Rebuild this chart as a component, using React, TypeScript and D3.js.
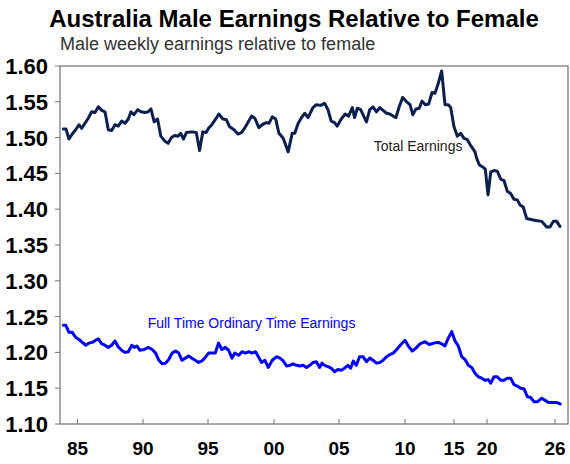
import React, { useEffect, useRef } from "react";
import * as d3 from "d3";

// Total earnings (male / female), decimal year + ratio
const teDates = [
  1983.92, 1984.12, 1984.35, 1984.6, 1984.86, 1985.11, 1985.32, 1985.57, 1985.82, 1986.08,
  1986.34, 1986.59, 1986.85, 1987.1, 1987.35, 1987.61, 1987.86, 1988.11, 1988.37, 1988.63,
  1988.88, 1989.08, 1989.31, 1989.6, 1989.85, 1990.15, 1990.4, 1990.61, 1990.86, 1991.12,
  1991.37, 1991.68, 1991.93, 1992.19, 1992.44, 1992.69, 1992.9, 1993.11, 1993.34, 1993.72,
  1994.1, 1994.35, 1994.6, 1994.86, 1995.04, 1995.29, 1995.55, 1995.82, 1996.13, 1996.39,
  1996.64, 1996.97, 1997.27, 1997.53, 1997.84, 1998.3, 1998.55, 1998.85, 1999.18, 1999.44,
  1999.62, 1999.87, 2000.13, 2000.38, 2000.71, 2001.09, 2001.4, 2001.6, 2001.86, 2002.16,
  2002.37, 2002.62, 2003.0, 2003.26, 2003.59, 2003.89, 2004.15, 2004.4, 2004.66, 2004.86,
  2005.17, 2005.47, 2005.73, 2006.01, 2006.18, 2006.39, 2006.64, 2006.82, 2007.08, 2007.33,
  2007.58, 2007.84, 2008.09, 2008.34, 2008.6, 2008.85, 2009.18, 2009.31, 2009.56, 2009.82,
  2010.17, 2010.51, 2010.79, 2011.12, 2011.46, 2011.73, 2012.07, 2012.42, 2012.76, 2013.06,
  2013.4, 2013.74, 2014.08, 2014.42, 2014.66, 2015.0, 2015.5, 2016.02, 2016.52, 2017.02,
  2017.53, 2018.18, 2018.44, 2018.83, 2019.34, 2019.74, 2020.09, 2020.33, 2020.62, 2020.91,
  2021.21, 2021.5, 2021.79, 2022.09, 2022.38, 2022.67, 2022.91, 2023.2, 2023.5, 2023.8,
  2024.09, 2024.44, 2024.83, 2025.27, 2025.56, 2025.85, 2026.15, 2026.44,
];
const teValues = [
  1.512, 1.512, 1.498, 1.505, 1.511, 1.518, 1.513, 1.52, 1.527, 1.536,
  1.535, 1.543, 1.538, 1.536, 1.511, 1.51, 1.518, 1.516, 1.523, 1.52,
  1.526, 1.536, 1.532, 1.539, 1.536, 1.535, 1.536, 1.54, 1.522, 1.526,
  1.502, 1.495, 1.492, 1.5, 1.503, 1.502, 1.506, 1.498, 1.507, 1.508,
  1.507, 1.482, 1.508, 1.507, 1.513, 1.518, 1.525, 1.533, 1.526, 1.525,
  1.515, 1.511, 1.505, 1.507, 1.515, 1.53, 1.527, 1.514, 1.519, 1.521,
  1.52, 1.529, 1.526, 1.506, 1.499, 1.48, 1.506, 1.506, 1.52, 1.529,
  1.534, 1.528, 1.542, 1.546, 1.545, 1.548, 1.539, 1.523, 1.521, 1.516,
  1.526, 1.533, 1.53, 1.542, 1.528, 1.541, 1.539, 1.532, 1.522, 1.539,
  1.543, 1.536, 1.542, 1.538, 1.534, 1.533, 1.529, 1.528, 1.543, 1.556,
  1.55, 1.546, 1.532, 1.54, 1.541, 1.551, 1.546, 1.547, 1.563, 1.562,
  1.576, 1.593, 1.546, 1.546, 1.542, 1.515, 1.502, 1.506, 1.499, 1.497,
  1.489, 1.48, 1.471, 1.462, 1.459, 1.456, 1.42, 1.452, 1.454, 1.453,
  1.442, 1.44, 1.425, 1.422, 1.414, 1.413, 1.406, 1.403, 1.387, 1.386,
  1.385, 1.384, 1.383, 1.375, 1.375, 1.383, 1.383, 1.376,
];

// Full time ordinary time earnings (male / female)
const ftDates = [
  1983.92, 1984.1, 1984.35, 1984.6, 1984.86, 1985.11, 1985.37, 1985.63, 1985.88, 1986.13,
  1986.39, 1986.59, 1986.85, 1987.1, 1987.35, 1987.61, 1987.86, 1988.11, 1988.37, 1988.63,
  1988.88, 1989.14, 1989.34, 1989.52, 1989.77, 1990.1, 1990.4, 1990.71, 1990.97, 1991.22,
  1991.47, 1991.73, 1991.98, 1992.24, 1992.5, 1992.75, 1993.0, 1993.26, 1993.51, 1993.76,
  1994.02, 1994.27, 1994.53, 1994.79, 1995.04, 1995.29, 1995.55, 1995.8, 1996.05, 1996.31,
  1996.56, 1996.82, 1997.02, 1997.33, 1997.58, 1997.84, 1998.09, 1998.34, 1998.6, 1998.85,
  1999.05, 1999.31, 1999.56, 1999.87, 2000.21, 2000.46, 2000.71, 2000.97, 2001.22, 2001.47,
  2001.73, 2001.98, 2002.24, 2002.5, 2002.75, 2003.01, 2003.26, 2003.51, 2003.69, 2003.89,
  2004.15, 2004.4, 2004.66, 2004.91, 2005.17, 2005.42, 2005.67, 2005.88, 2006.08, 2006.31,
  2006.56, 2006.82, 2007.08, 2007.33, 2007.58, 2007.84, 2008.09, 2008.34, 2008.6, 2008.85,
  2009.11, 2009.37, 2009.64, 2010.0, 2010.34, 2010.74, 2011.12, 2011.53, 2012.04, 2012.48,
  2012.96, 2013.4, 2013.74, 2014.08, 2014.42, 2014.77, 2015.15, 2015.65, 2016.17, 2016.67,
  2017.17, 2017.68, 2018.18, 2018.68, 2019.2, 2019.7, 2020.11, 2020.33, 2020.62, 2020.91,
  2021.21, 2021.5, 2021.79, 2022.09, 2022.38, 2022.67, 2022.97, 2023.27, 2023.56, 2023.86,
  2024.15, 2024.44, 2024.83, 2025.13, 2025.42, 2025.87, 2026.17, 2026.46,
];
const ftValues = [
  1.238, 1.238, 1.228, 1.228, 1.221, 1.218, 1.214, 1.21, 1.213, 1.214,
  1.217, 1.219, 1.212, 1.21, 1.207, 1.21, 1.216, 1.208, 1.203, 1.2,
  1.201, 1.21, 1.207, 1.209, 1.203, 1.204, 1.207, 1.204, 1.199, 1.189,
  1.184, 1.185, 1.19, 1.199, 1.202, 1.199, 1.189, 1.192, 1.195, 1.192,
  1.189, 1.186, 1.188, 1.193, 1.199, 1.199, 1.199, 1.213, 1.204, 1.207,
  1.203, 1.192, 1.199, 1.196, 1.201, 1.199, 1.201, 1.199, 1.201, 1.193,
  1.186, 1.189, 1.179, 1.189, 1.194, 1.192, 1.188, 1.181, 1.182, 1.184,
  1.182, 1.181, 1.182, 1.179, 1.182, 1.186, 1.187, 1.179, 1.185, 1.182,
  1.18, 1.178, 1.173, 1.176, 1.175, 1.178, 1.182, 1.178, 1.188, 1.182,
  1.194, 1.194, 1.187, 1.192, 1.189, 1.185, 1.186, 1.189, 1.194, 1.197,
  1.199, 1.204, 1.21, 1.217, 1.209, 1.202, 1.206, 1.212, 1.215, 1.211,
  1.213, 1.214, 1.212, 1.209, 1.22, 1.229, 1.216, 1.209, 1.194, 1.19,
  1.182, 1.179, 1.171, 1.166, 1.164, 1.161, 1.162, 1.157, 1.166, 1.166,
  1.161, 1.161, 1.164, 1.164, 1.155, 1.153, 1.15, 1.149, 1.138, 1.137,
  1.131, 1.131, 1.136, 1.133, 1.13, 1.13, 1.13, 1.128,
];

// axis is uneven in the original (quarterly, then half-yearly observations)
const xTickYears = [1985, 1990, 1995, 2000, 2005, 2010, 2015, 2020, 2026];
const xTickLabels = ["85", "90", "95", "00", "05", "10", "15", "20", "26"];
const xTickPixels = [77.5, 143, 208, 274, 339, 405, 454, 487, 555];
const yTicks = [1.1, 1.15, 1.2, 1.25, 1.3, 1.35, 1.4, 1.45, 1.5, 1.55, 1.6];

const W = 570;
const H = 464;
const plot = { left: 60, right: 568, top: 66, bottom: 424 };

const App: React.FC = () => {
  const svgRef = useRef<SVGSVGElement | null>(null);

  useEffect(() => {
    if (!svgRef.current) return;
    document.body.style.margin = "0";

    const svg = d3.select(svgRef.current);
    svg.selectAll("*").remove();

    const x = d3.scaleLinear().domain(xTickYears).range(xTickPixels);
    const y = d3.scaleLinear().domain([1.1, 1.6]).range([plot.bottom, plot.top]);

    const font = "Liberation Sans, Arial, sans-serif";

    svg.append("text")
      .attr("x", 294)
      .attr("y", 27)
      .attr("text-anchor", "middle")
      .style("font-family", font)
      .style("font-weight", "bold")
      .style("font-size", "24px")
      .style("fill", "#000")
      .text("Australia Male Earnings Relative to Female");

    svg.append("text")
      .attr("x", 60)
      .attr("y", 50)
      .style("font-family", font)
      .style("font-size", "18px")
      .style("fill", "#333")
      .text("Male weekly earnings relative to female");

    // plot frame
    svg.append("rect")
      .attr("x", plot.left)
      .attr("y", plot.top)
      .attr("width", plot.right - plot.left)
      .attr("height", plot.bottom - plot.top)
      .style("fill", "none")
      .style("stroke", "#555")
      .style("stroke-width", 1);

    // y ticks
    svg.selectAll(".ytick")
      .data(yTicks)
      .enter()
      .append("line")
      .attr("x1", plot.left - 5)
      .attr("x2", plot.left)
      .attr("y1", (d: number) => y(d))
      .attr("y2", (d: number) => y(d))
      .style("stroke", "#777");

    svg.selectAll(".ylabel")
      .data(yTicks)
      .enter()
      .append("text")
      .attr("x", 48)
      .attr("y", (d: number) => y(d) + 8)
      .attr("text-anchor", "end")
      .style("font-family", font)
      .style("font-weight", "bold")
      .style("font-size", "22px")
      .style("fill", "#000")
      .text((d: number) => d3.format(".2f")(d));

    // x ticks point inwards
    svg.selectAll(".xtick")
      .data(xTickYears)
      .enter()
      .append("line")
      .attr("x1", (d: number) => x(d))
      .attr("x2", (d: number) => x(d))
      .attr("y1", plot.bottom)
      .attr("y2", plot.bottom - 5)
      .style("stroke", "#777");

    svg.selectAll(".xlabel")
      .data(xTickYears)
      .enter()
      .append("text")
      .attr("x", (d: number) => x(d))
      .attr("y", 455)
      .attr("text-anchor", "middle")
      .style("font-family", font)
      .style("font-weight", "bold")
      .style("font-size", "19px")
      .style("fill", "#000")
      .text((_: number, i: number) => xTickLabels[i]);

    const drawSeries = (dates: number[], values: number[], colour: string) => {
      const pts: [number, number][] = values.map((v, i) => [x(dates[i]), y(v)]);
      svg.append("path")
        .attr("d", d3.line()(pts)! as string)
        .style("fill", "none")
        .style("stroke", colour)
        .style("stroke-width", 3)
        .style("stroke-linejoin", "round")
        .style("stroke-linecap", "round");
    };

    drawSeries(teDates, teValues, "#0c1f4f");
    drawSeries(ftDates, ftValues, "#0000ff");

    svg.append("text")
      .attr("x", x(2007.63))
      .attr("y", y(1.481))
      .style("font-family", font)
      .style("font-size", "14px")
      .style("fill", "#222")
      .text("Total Earnings");

    svg.append("text")
      .attr("x", x(1990.36))
      .attr("y", y(1.2337))
      .style("font-family", font)
      .style("font-size", "14px")
      .style("fill", "#0000ff")
      .text("Full Time Ordinary Time Earnings");
  }, []);

  return (
    <div>
      <svg ref={svgRef} width={W} height={H} style={{ display: "block" }}></svg>
    </div>
  );
};

export default App;
